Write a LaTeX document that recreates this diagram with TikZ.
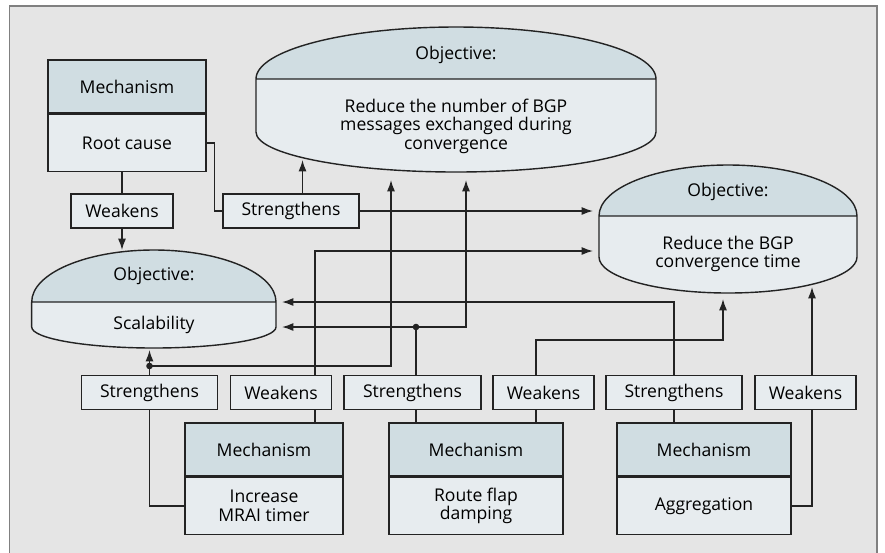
\documentclass[tikz,border=0pt]{standalone}
\usepackage{fontspec}
\setmainfont{Open Sans}
\usetikzlibrary{positioning,calc,arrows.meta}
\definecolor{headfill}{RGB}{208,221,226}
\definecolor{bodyfill}{RGB}{231,236,239}
\definecolor{bgfill}{RGB}{229,229,229}
\definecolor{framegray}{RGB}{128,128,128}
\definecolor{linecol}{RGB}{35,35,35}
\tikzset{
    % Mechanism boxes (header + body)
    mechhead/.style={draw=linecol, rectangle, fill=headfill, align=center,
                     minimum height=1.06cm, inner sep=1pt, line width=0.8pt},
    mechbody/.style={draw=linecol, rectangle, fill=bodyfill, align=center,
                     minimum height=1.14cm, inner sep=1pt, line width=0.8pt},
    % Strengthens / Weakens boxes
    relation/.style={draw=linecol, rectangle, fill=bodyfill, align=center,
                     minimum height=0.68cm, inner sep=1pt, line width=0.8pt},
    % Objectives
    objshape/.style={draw=linecol, line width=0.8pt},
    objtext/.style={align=center, inner sep=0pt},
    link/.style={draw=linecol, line width=0.8pt},
    arr/.style={link, -{Latex[length=6.5pt,width=4.6pt]}}
}
% objective outline: left x, right x, top, divider, end of sides, bottom
\newcommand{\objectiveshape}[6]{%
  \pgfmathsetmacro\orx{(#2-#1)/2}%
  \pgfmathsetmacro\oht{#4-#3}%
  \pgfmathsetmacro\ohb{#6-#5}%
  \fill[headfill] (#1,#4) arc[start angle=180, end angle=360, x radius=\orx, y radius=\oht] -- cycle;
  \fill[bodyfill] (#1,#4) -- (#2,#4) -- (#2,#5)
      arc[start angle=0, end angle=180, x radius=\orx, y radius=\ohb] -- cycle;
  \draw[objshape] (#1,#4) arc[start angle=180, end angle=360, x radius=\orx, y radius=\oht]
      -- (#2,#5) arc[start angle=0, end angle=180, x radius=\orx, y radius=\ohb] -- cycle
      (#1,#4) -- (#2,#4);
}
\begin{document}
\begin{tikzpicture}[x=0.02cm, y=-0.02cm, font=\fontsize{10}{10.5}\selectfont]
  \useasboundingbox (0,0) rectangle (885,552);
  \fill[bgfill] (9.5,6) rectangle (877,600);
  \draw[framegray, line width=1.1pt] (9.5,600) -- (9.5,6) -- (877,6) -- (877,600);

  % Objectives
  \objectiveshape{256}{656}{27}{79}{132}{172}
  \objectiveshape{599}{857}{165}{216}{257}{293}
  \objectiveshape{31.7}{276}{250}{302}{327}{348}
  \node[objtext] (o1h) at (456,55) {Objective:};
  \node[objtext] (o1b) at (456,126) {Reduce the number of BGP\\messages exchanged during\\convergence};
  \node[objtext] (o2h) at (728,192) {Objective:};
  \node[objtext] (o2b) at (728,254) {Reduce the BGP\\convergence time};
  \node[objtext] (o3h) at (154,276) {Objective:};
  \node[objtext] (o3b) at (154,325) {Scalability};

  % Mechanisms
  \node[mechhead, minimum width=3.16cm] (rch) at (127,86.5) {Mechanism};
  \node[mechbody, minimum width=3.16cm, below=0pt of rch] (rcb) {Root cause};
  \node[mechhead, minimum width=3.16cm] (mrh) at (264,449.5) {Mechanism};
  \node[mechbody, minimum width=3.16cm, below=0pt of mrh] (mrb) {Increase\\MRAI timer};
  \node[mechhead, minimum width=3.48cm] (rfh) at (476,449.5) {Mechanism};
  \node[mechbody, minimum width=3.48cm, below=0pt of rfh] (rfb) {Route flap\\damping};
  \node[mechhead, minimum width=3.48cm] (agh) at (704,449.5) {Mechanism};
  \node[mechbody, minimum width=3.48cm, below=0pt of agh] (agb) {Aggregation};

  % Relations
  \node[relation, minimum width=2.04cm] (wk0) at (122,211) {Weakens};
  \node[relation, minimum width=2.72cm] (st0) at (291,211) {Strengthens};
  \node[relation, minimum width=2.72cm] (st1) at (149.5,392.5) {Strengthens};
  \node[relation, minimum width=2.02cm] (wk1) at (281,392.5) {Weakens};
  \node[relation, minimum width=2.74cm] (st2) at (412.5,392.5) {Strengthens};
  \node[relation, minimum width=2.02cm] (wk2) at (543.5,392.5) {Weakens};
  \node[relation, minimum width=2.72cm] (st3) at (674,392.5) {Strengthens};
  \node[relation, minimum width=2.02cm] (wk3) at (805.5,392.5) {Weakens};

  % Arrow ends and corners
  \coordinate (o1in1) at (302.5,160);
  \coordinate (o1in2) at (391,180);
  \coordinate (o1in3) at (466,180);
  \coordinate (o2in1) at (593,211);
  \coordinate (o2in2) at (593,251);
  \coordinate (o2in3) at (723,299);
  \coordinate (o2in4) at (812,287);
  \coordinate (o3in1) at (122,250);
  \coordinate (o3in2) at (282,302);
  \coordinate (o3in3) at (282,327);
  \coordinate (o3in4) at (149.5,350);
  \coordinate (j1) at (149.5,366);
  \coordinate (j2) at (416,327);
  \coordinate (c1) at (315,251);
  \coordinate (c2) at (536,340);

  % Root cause
  \draw[link] (wk0.north) -- (wk0.north |- rcb.south);
  \draw[arr] (wk0.south) -- (o3in1);
  \draw[link] (rcb.east) -- ++(8,0) |- (st0.west);
  \draw[arr] (o1in1 |- st0.north) -- (o1in1);
  \draw[arr] (st0.east) -- (o2in1);

  % Increase MRAI timer
  \draw[link] (mrb.west) -| (st1.south);
  \draw[link] (st1.north) -- (j1);
  \draw[arr] (j1) -- (o3in4);
  \draw[arr] (j1) -| (o1in2);
  \fill[linecol] (j1) circle[radius=3.3];
  \draw[link] (c1 |- mrh.north) -- (c1 |- wk1.south);
  \draw[arr] (c1 |- wk1.north) -- (c1) -- (o2in2);

  % Route flap damping
  \draw[link] (j2 |- rfh.north) -- (j2 |- st2.south);
  \draw[link] (j2 |- st2.north) -- (j2);
  \draw[arr] (j2) -- (o3in3);
  \draw[arr] (j2) -| (o1in3);
  \fill[linecol] (j2) circle[radius=3.3];
  \draw[link] (c2 |- rfh.north) -- (c2 |- wk2.south);
  \draw[arr] (c2 |- wk2.north) -- (c2) -| (o2in3);

  % Aggregation
  \draw[link] (st3.south) -- (st3.south |- agh.north);
  \draw[arr] (st3.north) |- (o3in2);
  \draw[link] (agb.east) -| (o2in4 |- wk3.south);
  \draw[arr] (o2in4 |- wk3.north) -- (o2in4);
\end{tikzpicture}
\end{document}
